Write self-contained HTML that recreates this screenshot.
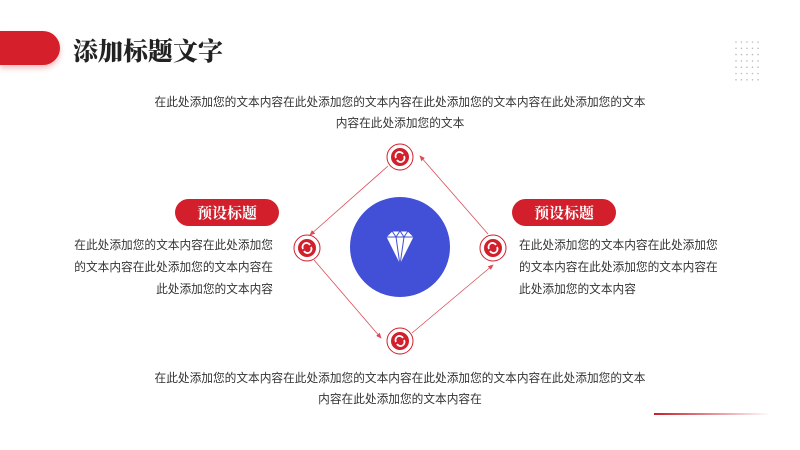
<!DOCTYPE html>
<html><head><meta charset="utf-8"><style>
body{margin:0;width:800px;height:450px;background:#fff;position:relative;overflow:hidden;font-family:"Liberation Sans","Noto Sans CJK SC",sans-serif;color:#333}
.abs{position:absolute}
.t{font-size:11.7px;line-height:22px;white-space:nowrap}
.tt{font-size:11.7px;line-height:21px;white-space:nowrap}
.pill{position:absolute;height:27px;width:104px;border-radius:14px;background:#d21f2b;color:#fff;font-family:"Noto Serif CJK SC",serif;font-weight:bold;font-size:15px;line-height:27px;text-align:center}
</style></head><body>
<div class="abs" style="left:0;top:31px;width:60px;height:34px;background:#d5202c;border-radius:0 17px 17px 0;box-shadow:0 3px 6px rgba(210,30,40,.3)"></div>
<div class="abs" style="left:73px;top:33px;font-family:'Noto Serif CJK SC',serif;font-weight:900;font-size:25px;line-height:34px;color:#222">添加标题文字</div>
<svg class="abs" style="left:0;top:0" width="800" height="450">
<defs><marker id="a" markerWidth="8" markerHeight="8" refX="6" refY="4" orient="auto"><path d="M0,1 L7,4 L0,7 Z" fill="#d21f2b"/></marker>
<linearGradient id="g"><stop offset="0" stop-color="#c81e2a"/><stop offset="1" stop-color="#fff"/></linearGradient></defs>
<g fill="#bbb">
<g id="r"><circle cx="736" cy="42" r=".8"/><circle cx="741.5" cy="42" r=".8"/><circle cx="747" cy="42" r=".8"/><circle cx="752.5" cy="42" r=".8"/><circle cx="758" cy="42" r=".8"/></g>
<use href="#r" y="6.3"/><use href="#r" y="12.6"/><use href="#r" y="18.9"/><use href="#r" y="25.2"/><use href="#r" y="31.5"/><use href="#r" y="37.8"/>
</g>
<rect x="654" y="413" width="116" height="2" fill="url(#g)"/>
<g stroke="#d21f2b" stroke-width="0.8" fill="none" opacity=".8">
<line x1="388" y1="166" x2="310" y2="235" marker-end="url(#a)"/>
<line x1="488" y1="234" x2="420" y2="156" marker-end="url(#a)"/>
<line x1="314" y1="260" x2="381" y2="338" marker-end="url(#a)"/>
<line x1="412" y1="333" x2="493" y2="265" marker-end="url(#a)"/>
</g>
<circle cx="400" cy="247" r="50" fill="#4150d6"/>
<g fill="#fff" stroke="#4150d6" stroke-width="1">
<path d="M386,237 L392,231 L408,231 L414,237 L400,265 Z"/>
<path d="M386,237 L414,237 M392,231 L396,237 L400,231 L404,237 L408,231 M396,237 L400,265 L404,237" fill="none"/>
</g>
<defs><g id="n">
<circle cx="0" cy="0" r="13" fill="#fff" stroke="#d21f2b" stroke-width="1"/>
<circle cx="0" cy="0" r="9" fill="#d21f2b"/>
<path d="M-4,1 A4,4 0 0 1 3,-3 M4,-1 A4,4 0 0 1 -3,3" stroke="#fff" stroke-width="1.8" fill="none"/>
</g></defs>
<use href="#n" x="400" y="157"/><use href="#n" x="307" y="248"/><use href="#n" x="493" y="248"/><use href="#n" x="400" y="341"/>
</svg>
<div class="abs tt" style="left:0;width:800px;top:92px;text-align:center">在此处添加您的文本内容在此处添加您的文本内容在此处添加您的文本内容在此处添加您的文本<br>内容在此处添加您的文本</div>
<div class="abs tt" style="left:0;width:800px;top:368px;text-align:center">在此处添加您的文本内容在此处添加您的文本内容在此处添加您的文本内容在此处添加您的文本<br>内容在此处添加您的文本内容在</div>
<div class="pill" style="left:175px;top:199px">预设标题</div>
<div class="pill" style="left:512px;top:199px">预设标题</div>
<div class="abs t" style="right:527px;top:235px;text-align:right">在此处添加您的文本内容在此处添加您<br>的文本内容在此处添加您的文本内容在<br>此处添加您的文本内容</div>
<div class="abs t" style="left:519px;top:235px">在此处添加您的文本内容在此处添加您<br>的文本内容在此处添加您的文本内容在<br>此处添加您的文本内容</div>
</body></html>
